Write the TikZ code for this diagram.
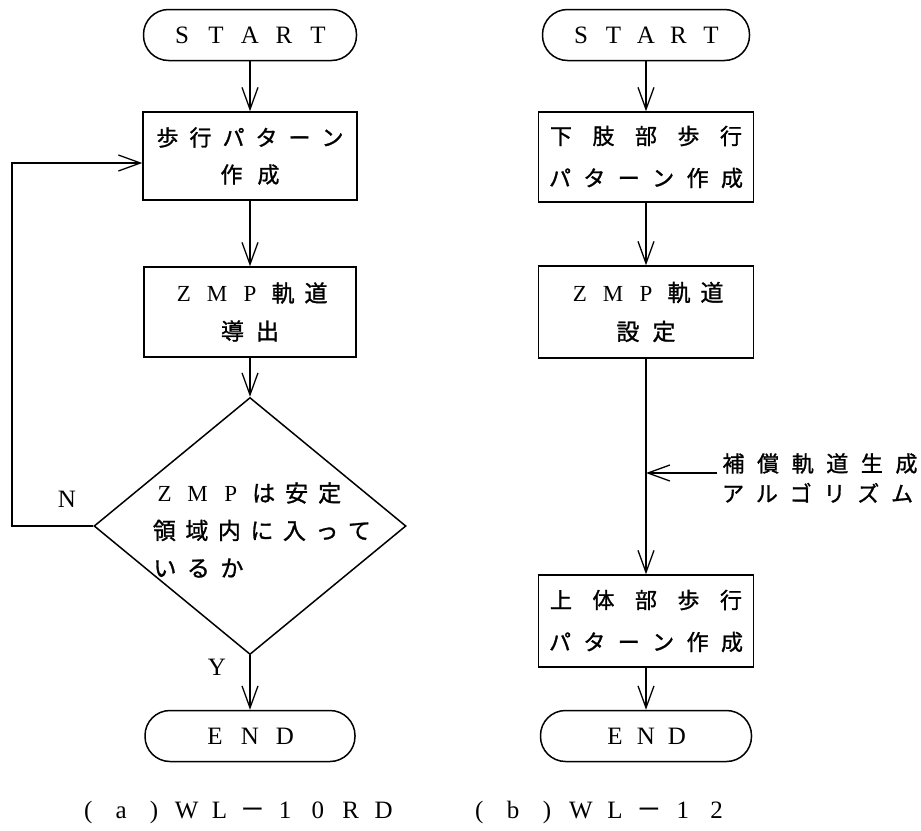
\documentclass[tikz,border=0pt]{standalone}
\usepackage{fontspec}
\setmainfont{Liberation Serif}
\newfontfamily\cjk[FakeBold=1.2]{Noto Sans CJK JP}
\usetikzlibrary{arrows.meta,shapes.geometric}
\newlength\chpitch
\makeatletter
\newcommand\spaced[2][33pt]{\setlength\chpitch{#1}\sp@cA#2\relax}
\def\sp@cA#1{\ifx#1\relax\else\sp@box{#1}\expandafter\sp@cA\fi}
\newcommand\sp@box[1]{\makebox[\chpitch][c]{\ifnum`#1>"1FFF \cjk\fi #1}}
\makeatother
\tikzset{
  arr/.style={line width=1.5pt,-{Straight Barb[length=22pt,width=16pt,line width=1.3pt]}},
  term/.style={draw,line width=1.5pt,rounded corners=25pt,minimum height=51pt,inner sep=0pt,font=\fontsize{25}{28}\selectfont},
  proc/.style={draw,line width=1.5pt,minimum height=90pt,inner sep=0pt,align=center},
  txt/.style={inner sep=0pt,font=\fontsize{22}{38}\selectfont},
  lbl/.style={inner sep=0pt,font=\fontsize{25}{28}\selectfont},
}
\begin{document}
\begin{tikzpicture}[x=1pt,y=-1pt]
\useasboundingbox (0,0) rectangle (921,830);
% ---------- (a) ----------
\node[term,minimum width=213pt] (s1) at (250,35) {\spaced[34pt]{START}};
\node[proc,minimum width=214pt,minimum height=88pt,font=\fontsize{22}{37}\selectfont] (a1) at (250,156)
  {\spaced[33pt]{歩行パターン}\\\spaced[37pt]{作成}};
\node[proc,minimum width=212pt,font=\fontsize{23}{38}\selectfont] (a2) at (250,312)
  {\spaced[33pt]{ZMP軌道}\\\spaced[35pt]{導出}};
\node[draw,diamond,line width=1.5pt,minimum width=312pt,minimum height=257pt,inner sep=0pt] (d) at (250,526) {};
\node[txt,anchor=west,align=left,font=\fontsize{23}{37.5}\selectfont] (dq) at (148,530)
  {\spaced[33pt]{ZMPは安定}\\\spaced[32.5pt]{領域内に入って}\\\spaced[33.5pt]{いるか}};
\node[term,minimum width=210pt] (e1) at (250,736) {\spaced[35pt]{END}};
\node[lbl] (n) at (67,499) {N};
\node[lbl] (y) at (217,667) {Y};
\node[lbl] (ca) at (236,812) {\spaced[32.8pt]{(a)WL－10RD}};
\coordinate (fb) at (12,526);
\draw[arr] (s1.south) -- (a1.north);
\draw[arr] (a1.south) -- (a2.north);
\draw[arr] (a2.south) -- (d.north);
\draw[arr] (d.south) -- (e1.north);
\draw[arr] (d.west) -- (fb) |- ([yshift=-7pt]a1.west);
% ---------- (b) ----------
\node[term,minimum width=207pt] (s2) at (646,35) {\spaced[32.5pt]{START}};
\node[proc,minimum width=215pt,font=\fontsize{22}{42}\selectfont] (b1) at (646,157)
  {\spaced[42.5pt]{下肢部歩行}\\\spaced[34.4pt]{パターン作成}};
\node[proc,minimum width=215pt,minimum height=92pt,font=\fontsize{23}{39}\selectfont] (b2) at (646,312)
  {\spaced[33pt]{ZMP軌道}\\\spaced[36pt]{設定}};
\node[proc,minimum width=215pt,minimum height=92pt,font=\fontsize{22}{42}\selectfont] (b3) at (646,621)
  {\spaced[42.5pt]{上体部歩行}\\\spaced[34.4pt]{パターン作成}};
\node[term,minimum width=211pt] (e2) at (646,736) {\spaced[31pt]{END}};
\node[txt,anchor=west,align=left,font=\fontsize{22}{30}\selectfont] (alg) at (716,478)
  {\spaced[34.6pt]{補償軌道生成}\\\spaced[33.8pt]{アルゴリズム}};
\node[lbl] (cb) at (598,812) {\spaced[33.9pt]{(b)WL－12}};
\coordinate (sa) at (717,473);
\draw[arr] (s2.south) -- (b1.north);
\draw[arr] (b1.south) -- (b2.north);
\draw[arr] (b2.south) -- (b3.north);
\draw[arr] (b3.south) -- (e2.north);
\draw[arr] (sa) -- (sa -| b2.south);
\end{tikzpicture}
\end{document}
